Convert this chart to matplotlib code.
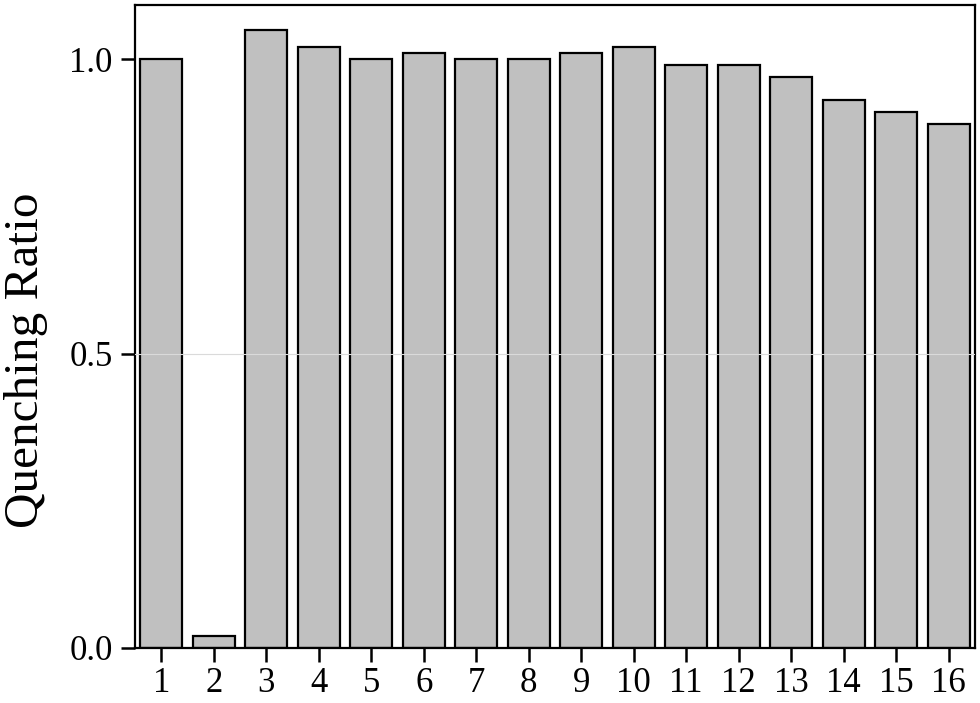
import matplotlib
matplotlib.use("Agg")
import matplotlib.pyplot as plt

categories = [str(i) for i in range(1, 17)]
values = [1.00, 0.02, 1.05, 1.02, 1.00, 1.01, 1.00, 1.00, 1.01, 1.02, 0.99, 0.99, 0.97, 0.93, 0.91, 0.89]
yticks = [0.0, 0.5, 1.0]
ytick_labels = ["0.0", "0.5", "1.0"]

plt.rcParams['font.family'] = ['Liberation Serif', 'DejaVu Serif']

fig = plt.figure(figsize=(9.8, 7.03), dpi=100)
ax = fig.add_axes([135/980, 1 - 648/703, (975 - 135)/980, (648 - 5)/703])

x = list(range(1, len(categories) + 1))
ax.bar(x, values, width=0.8, color='#c0c0c0', edgecolor='black', linewidth=1.6, zorder=2)
ax.axhline(0.5, color='#dadada', linewidth=0.8, zorder=3)

ax.set_xlim(0.5, 16.5)
ax.set_ylim(0, 1.092)
ax.set_xticks(x)
ax.set_xticklabels(categories)
ax.set_yticks(yticks)
ax.set_yticklabels(ytick_labels)

ax.tick_params(axis='both', direction='out', length=10, width=1.8, labelsize=25)
ax.tick_params(axis='x', pad=4)
ax.tick_params(axis='y', pad=6)
ax.tick_params(top=False, right=False)
for s in ax.spines.values():
    s.set_linewidth(1.6)

ax.set_ylabel("Quenching Ratio", fontsize=35.5)
ax.yaxis.set_label_coords(-0.104, 0.448)

fig.savefig("out.png", dpi=100)
